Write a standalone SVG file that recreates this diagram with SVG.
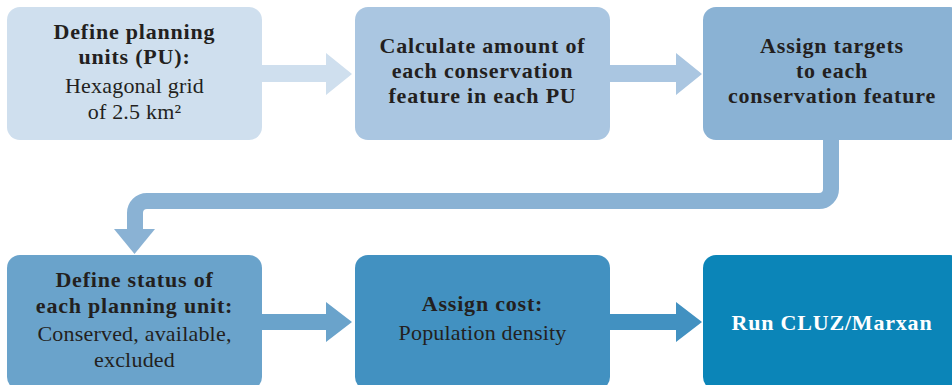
<svg xmlns="http://www.w3.org/2000/svg" width="952" height="385" viewBox="0 0 952 385">
  <style>
    .t { font-family: "Liberation Serif", "DejaVu Serif", serif; font-size: 22px; fill: #231f20; text-anchor: middle; letter-spacing: 0.2px; }
    .b { font-weight: bold; letter-spacing: 0.8px; }
    .w { fill: #ffffff; }
  </style>
  <rect width="952" height="385" fill="#ffffff"/>

  <!-- connectors -->
  <g id="connectors">
    <path id="c1" fill="#cfdfee" d="M262 65 H326 V53 L352 74 L326 95 V82 H262 Z"/>
    <path id="c2" fill="#aac6e1" d="M610 65 H676 V53 L702 74 L676 95 V82 H610 Z"/>
    <g id="c3">
      <path fill="none" stroke="#8ab2d4" stroke-width="16" d="M831 138 V189 A12 12 0 0 1 819 201 H147 A12 12 0 0 0 135 213 V231"/>
      <path fill="#8ab2d4" d="M114 229 H155 L134.5 254 Z"/>
    </g>
    <path id="c4" fill="#6aa3cb" d="M262 314 H326 V302 L352 322 L326 342 V330 H262 Z"/>
    <path id="c5" fill="#4291c1" d="M610 314 H676 V302 L702 322 L676 342 V330 H610 Z"/>
  </g>

  <g id="n1">
    <rect x="7" y="7" width="255" height="133" rx="13" fill="#cfdfee"/>
    <text class="t b" x="134.5" y="39">Define planning</text>
    <text class="t b" x="134.5" y="64">units (PU):</text>
    <text class="t" x="134.5" y="93">Hexagonal grid</text>
    <text class="t" x="134.5" y="119">of 2.5 km²</text>
  </g>

  <g id="n2">
    <rect x="355" y="7" width="255" height="133" rx="13" fill="#aac6e1"/>
    <text class="t b" x="482.5" y="53">Calculate amount of</text>
    <text class="t b" x="482.5" y="78">each conservation</text>
    <text class="t b" x="482.5" y="103">feature in each PU</text>
  </g>

  <g id="n3">
    <rect x="703" y="7" width="260" height="133" rx="13" fill="#8ab2d4"/>
    <text class="t b" x="832" y="53">Assign targets</text>
    <text class="t b" x="832" y="78">to each</text>
    <text class="t b" x="832" y="103">conservation feature</text>
  </g>

  <g id="n4">
    <rect x="7" y="255" width="255" height="135" rx="13" fill="#6aa3cb"/>
    <text class="t b" x="134.5" y="287">Define status of</text>
    <text class="t b" x="134.5" y="313">each planning unit:</text>
    <text class="t" x="134.5" y="341">Conserved, available,</text>
    <text class="t" x="134.5" y="367">excluded</text>
  </g>

  <g id="n5">
    <rect x="355" y="255" width="255" height="135" rx="13" fill="#4291c1"/>
    <text class="t b" x="482.5" y="311">Assign cost:</text>
    <text class="t" x="482.5" y="340">Population density</text>
  </g>

  <g id="n6">
    <rect x="703" y="255" width="260" height="135" rx="13" fill="#0b85b8"/>
    <text class="t b w" x="832" y="330">Run CLUZ/Marxan</text>
  </g>
</svg>
